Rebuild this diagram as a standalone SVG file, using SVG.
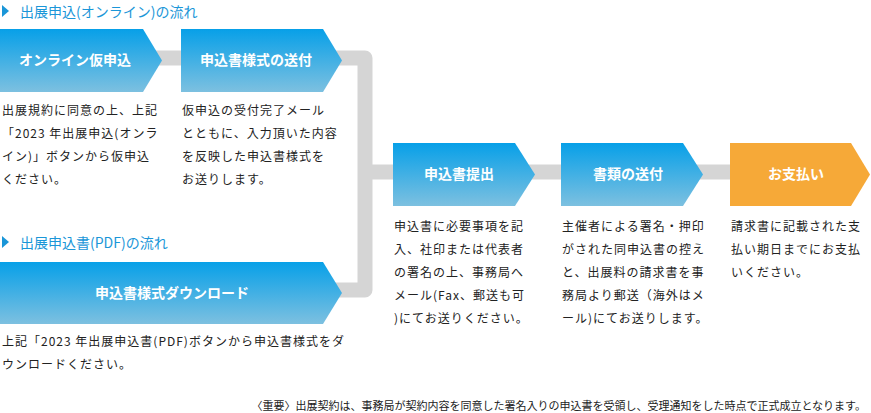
<svg xmlns="http://www.w3.org/2000/svg" width="871" height="413" viewBox="0 0 871 413">
<defs>
<linearGradient id="bg" x1="0" y1="0" x2="0" y2="1"><stop offset="0" stop-color="#07a0e8"/><stop offset="1" stop-color="#7dc0e0"/></linearGradient>
<style>
.h{font-family:"Noto Sans CJK JP",sans-serif;font-size:14px;fill:#1a96d8}
.n{font-family:"Noto Sans CJK JP",sans-serif;font-size:14px;font-weight:bold;fill:#fff;text-anchor:middle}
.d{font-family:"Noto Sans CJK JP",sans-serif;font-size:12px;fill:#222;letter-spacing:1px}
.f{font-family:"Noto Sans CJK JP",sans-serif;font-size:11px;fill:#222}
.bar{fill:none;stroke:#d5d5d5;stroke-width:15;stroke-linejoin:round}
</style>
</defs>
<g id="connectors">
<path class="bar" d="M140,58 H365 V290 H330"/>
<path class="bar" d="M365,172 H760"/>
</g>
<path d="M2,5 L9,11 L2,17 Z" fill="#1a96d8"/>
<text class="h" x="20" y="17">出展申込(オンライン)の流れ</text>
<path d="M2,236 L9,242 L2,248 Z" fill="#1a96d8"/>
<text class="h" x="20" y="248">出展申込書(PDF)の流れ</text>
<g id="n1"><path d="M0,29 H143 L162,60.5 L143,92 H0 Z" fill="url(#bg)"/><text class="n" x="75" y="65">オンライン仮申込</text></g>
<g id="n2"><path d="M181,29 H323 L342,60.5 L323,92 H181 Z" fill="url(#bg)"/><text class="n" x="256" y="65">申込書様式の送付</text></g>
<g id="n3"><path d="M393,143 H515 L535,174.5 L515,206 H393 Z" fill="url(#bg)"/><text class="n" x="459" y="179">申込書提出</text></g>
<g id="n4"><path d="M561,143 H683 L703,174.5 L683,206 H561 Z" fill="url(#bg)"/><text class="n" x="628" y="179">書類の送付</text></g>
<g id="n5"><path d="M730,143 H851 L870,174.5 L851,206 H730 Z" fill="#f6a938"/><text class="n" x="796" y="179">お支払い</text></g>
<g id="n6"><path d="M0,262 H323 L342,293 L323,324 H0 Z" fill="url(#bg)"/><text class="n" x="172" y="298">申込書様式ダウンロード</text></g>
<text class="d" x="2" y="115">出展規約に同意の上、上記</text>
<text class="d" x="2" y="138">「2023 年出展申込(オンラ</text>
<text class="d" x="2" y="161">イン)」ボタンから仮申込</text>
<text class="d" x="2" y="184">ください。</text>
<text class="d" x="182" y="115">仮申込の受付完了メール</text>
<text class="d" x="182" y="138">とともに、入力頂いた内容</text>
<text class="d" x="182" y="161">を反映した申込書様式を</text>
<text class="d" x="182" y="184">お送りします。</text>
<text class="d" x="394" y="231">申込書に必要事項を記</text>
<text class="d" x="394" y="254">入、社印または代表者</text>
<text class="d" x="394" y="277">の署名の上、事務局へ</text>
<text class="d" x="394" y="300">メール(Fax、郵送も可</text>
<text class="d" x="394" y="323">)にてお送りください。</text>
<text class="d" x="562" y="231">主催者による署名・押印</text>
<text class="d" x="562" y="254">がされた同申込書の控え</text>
<text class="d" x="562" y="277">と、出展料の請求書を事</text>
<text class="d" x="562" y="300">務局より郵送（海外はメ</text>
<text class="d" x="562" y="323">ール)にてお送りします。</text>
<text class="d" x="731" y="231">請求書に記載された支</text>
<text class="d" x="731" y="254">払い期日までにお支払</text>
<text class="d" x="731" y="277">いください。</text>
<text class="d" x="2" y="346">上記「2023 年出展申込書(PDF)ボタンから申込書様式をダ</text>
<text class="d" x="2" y="369">ウンロードください。</text>
<text class="f" x="866" y="410" text-anchor="end">〈重要〉出展契約は、事務局が契約内容を同意した署名入りの申込書を受領し、受理通知をした時点で正式成立となります。</text>
</svg>
